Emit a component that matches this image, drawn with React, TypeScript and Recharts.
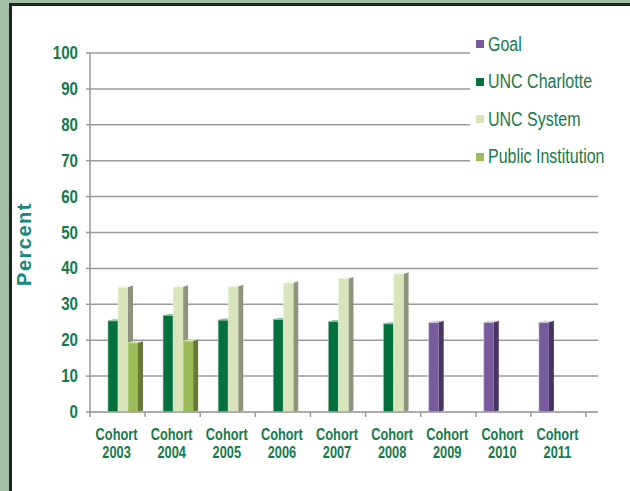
import React from "react";
import { BarChart, Bar, XAxis, YAxis, CartesianGrid } from "recharts";

// Graduation-rate comparison by entering cohort
const cohortYears = ["2003", "2004", "2005", "2006", "2007", "2008", "2009", "2010", "2011"];
const goalValues: (number | null)[] = [null, null, null, null, null, null, 25, 25, 25];
const charlotteValues: (number | null)[] = [25.4, 26.9, 25.6, 25.8, 25.2, 24.6, null, null, null];
const systemValues: (number | null)[] = [34.8, 34.9, 35.0, 36.0, 37.2, 38.5, null, null, null];
const publicValues: (number | null)[] = [19.3, 19.8, null, null, null, null, null, null, null];
const yTicks = [0, 10, 20, 30, 40, 50, 60, 70, 80, 90, 100];

const seriesNames = ["Goal", "UNC Charlotte", "UNC System", "Public Institution"];

const rows = cohortYears.map((year, i) => ({
  year,
  goal: goalValues[i],
  charlotte: charlotteValues[i],
  system: systemValues[i],
  pub: publicValues[i],
}));

const FONT = "'Liberation Sans', Arial, sans-serif";
const TEXT_GREEN = "#17794b";

const palette = {
  goal: { face: "#775b9c", side: "#47365f", edge: "#d6cfe2" },
  charlotte: { face: "#04703d", side: "#03502b", edge: "#8fbfa4" },
  system: { face: "#d8e5bb", side: "#8d937d", edge: "#f4f8ea" },
  pub: { face: "#9bbb59", side: "#667a37", edge: "#d4e3b4" },
};

type Colors = { face: string; side: string; edge: string };

// Condensed SVG text: horizontally squeezed around its anchor point
const NarrowText = ({ x, y, anchor, size, squeeze = 0.8, children, fill = TEXT_GREEN }: any) => (
  <g transform={`translate(${x},${y}) scale(${squeeze},1)`}>
    <text x={0} y={0} textAnchor={anchor} fill={fill} fontFamily={FONT} fontWeight="bold" fontSize={size}>
      {children}
    </text>
  </g>
);

// Bar with a shaded side panel and a thin top cap for a 3‑D look
const Bar3D = (props: any) => {
  const { x, y, width, height, colors } = props as { x: number; y: number; width: number; height: number; colors: Colors };
  if (!height || height <= 0 || x == null) return null;
  const d = 5;
  const lift = 1.5;
  return (
    <g>
      <polygon
        points={`${x + width},${y} ${x + width + d},${y - lift} ${x + width + d},${y + height - lift} ${x + width},${y + height}`}
        fill={colors.side}
      />
      <rect x={x} y={y} width={width} height={height} fill={colors.face} />
      <polygon
        points={`${x},${y} ${x + d},${y - lift} ${x + width + d},${y - lift} ${x + width},${y}`}
        fill={colors.edge}
      />
      <line x1={x} y1={y} x2={x + width} y2={y} stroke={colors.edge} strokeWidth={1} />
      <line x1={x} y1={y} x2={x} y2={y + height} stroke={colors.edge} strokeWidth={0.6} />
    </g>
  );
};

const CohortTick = (props: any) => {
  const { x, payload, index } = props;
  const y = 412;
  const half = payload && payload.offset ? payload.offset : 27.5;
  return (
    <g>
      {index === 0 && <line x1={x - half} y1={y} x2={x - half} y2={y + 5} stroke="#9a9a9a" strokeWidth={1.5} />}
      <line x1={x + half} y1={y} x2={x + half} y2={y + 5} stroke="#9a9a9a" strokeWidth={1.5} />
      <NarrowText x={x - 1} y={y + 28} anchor="middle" size={16}>
        Cohort
      </NarrowText>
      <NarrowText x={x - 1} y={y + 46} anchor="middle" size={16}>
        {payload.value}
      </NarrowText>
    </g>
  );
};

const PercentTick = (props: any) => {
  const { x, y, payload } = props;
  return (
    <NarrowText x={x} y={y + 6} anchor="end" size={18} squeeze={0.84}>
      {payload.value}
    </NarrowText>
  );
};

const legendItems = [
  { name: seriesNames[0], color: palette.goal.face },
  { name: seriesNames[1], color: palette.charlotte.face },
  { name: seriesNames[2], color: palette.system.face },
  { name: seriesNames[3], color: palette.pub.face },
];

export default function App() {
  return (
    <div style={{ position: "relative", width: 630, height: 491, overflow: "hidden", background: "#a2bea5" }}>
      <style>{"body{margin:0}"}</style>
      <div
        style={{
          position: "absolute",
          left: 9,
          top: 3,
          width: 640,
          height: 500,
          background: "#ffffff",
          borderLeft: "3px solid #232323",
          borderTop: "3px solid #232323",
        }}
      />
      <div style={{ position: "absolute", left: 0, top: 0 }}>
        <BarChart
          width={630}
          height={491}
          data={rows}
          margin={{ top: 53, right: 32, bottom: 49, left: 30 }}
          barGap={0}
          barSize={10}
        >
          <CartesianGrid vertical={false} stroke="#9a9a9a" strokeWidth={1.5} />
          <XAxis
            dataKey="year"
            height={30}
            interval={0}
            tickLine={false}
            tickSize={0}
            tickMargin={0}
            stroke="#a8a8a8"
            strokeWidth={1.5}
            padding={{ left: 0, right: 12 }}
            tick={<CohortTick />}
          />
          <YAxis
            domain={[0, 100]}
            ticks={yTicks}
            interval={0}
            width={60}
            tickSize={4}
            tickMargin={8}
            stroke="#9a9a9a"
            strokeWidth={1.5}
            tick={<PercentTick />}
          />
          <Bar dataKey="goal" isAnimationActive={false} shape={(p: any) => <Bar3D {...p} colors={palette.goal} />} />
          <Bar dataKey="charlotte" isAnimationActive={false} shape={(p: any) => <Bar3D {...p} colors={palette.charlotte} />} />
          <Bar dataKey="system" isAnimationActive={false} shape={(p: any) => <Bar3D {...p} colors={palette.system} />} />
          <Bar dataKey="pub" isAnimationActive={false} shape={(p: any) => <Bar3D {...p} colors={palette.pub} />} />
        </BarChart>
      </div>
      {/* Y-axis title */}
      <div
        style={{
          position: "absolute",
          left: 24,
          top: 244,
          transform: "translate(-50%, -50%) rotate(-90deg)",
          color: "#0f8a7d",
          fontFamily: FONT,
          fontWeight: "bold",
          fontSize: 20,
          letterSpacing: 1.5,
          whiteSpace: "nowrap",
        }}
      >
        Percent
      </div>
      {/* Legend */}
      <div style={{ position: "absolute", left: 470, top: 28, width: 160, height: 142, background: "#ffffff" }}>
        {legendItems.map((item, i) => (
          <div
            key={item.name}
            style={{
              position: "absolute",
              left: 6,
              top: 16 + i * 37.5 - 11,
              height: 22,
              display: "flex",
              alignItems: "center",
              whiteSpace: "nowrap",
            }}
          >
            <span style={{ display: "inline-block", width: 8, height: 8, background: item.color, marginRight: 4 }} />
            <span
              style={{
                color: TEXT_GREEN,
                fontFamily: FONT,
                fontSize: 20,
                display: "inline-block",
                transform: "scaleX(0.8)",
                transformOrigin: "left center",
              }}
            >
              {item.name}
            </span>
          </div>
        ))}
      </div>
    </div>
  );
}
